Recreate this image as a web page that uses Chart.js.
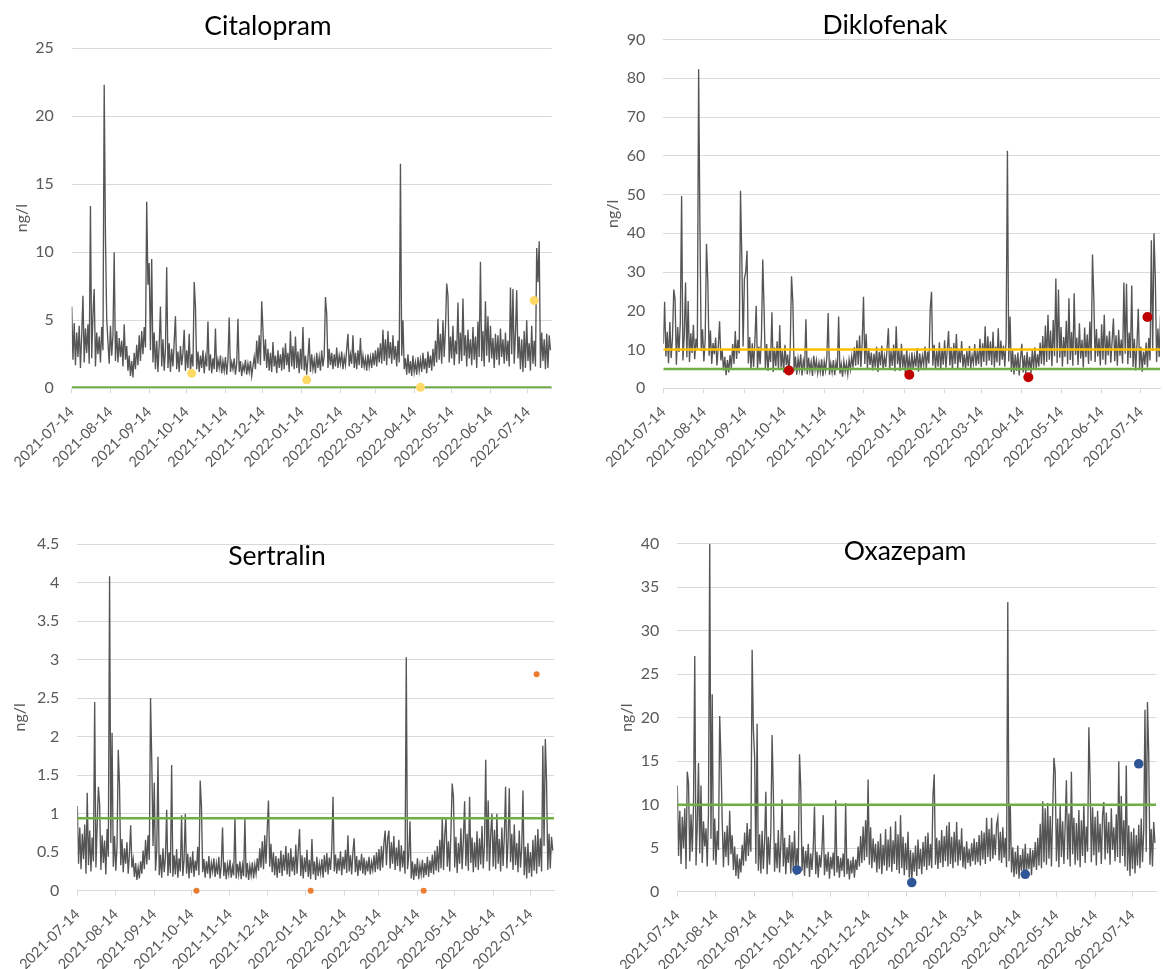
<!DOCTYPE html>
<html><head><meta charset="utf-8">
<script src="https://cdn.jsdelivr.net/npm/chart.js@4.4.1/dist/chart.umd.min.js"></script>
<style>
html,body{margin:0;padding:0;background:#fff;}
#wrap{position:relative;width:1165px;height:969px;overflow:hidden;background:#fff;}
canvas{position:absolute;}
</style></head><body>
<div id="wrap">
<canvas id="c1" width="580" height="480" style="left:0;top:0"></canvas>
<canvas id="c2" width="585" height="480" style="left:580px;top:0"></canvas>
<canvas id="c3" width="580" height="489" style="left:0;top:480px"></canvas>
<canvas id="c4" width="585" height="489" style="left:580px;top:480px"></canvas>
</div>
<script>
// ---- tick labels (monthly) ----
const tickLabels = ['2021-07-14','2021-08-14','2021-09-14','2021-10-14','2021-11-14','2021-12-14','2022-01-14','2022-02-14','2022-03-14','2022-04-14','2022-05-14','2022-06-14','2022-07-14'];
// days (since 2021-07-14) of the quarterly samples
const dotDays = [96, 188, 279, 370];

// ---- daily values, day 0 = 2021-07-14 ----
const citalopramValues = [
6.0,2.1,4.8,1.7,4.1,2.3,4.6,1.5,3.9,6.8,
1.9,4.4,2.6,4.7,1.8,13.4,2.2,5.4,7.3,1.6,
4.1,2.5,3.8,1.9,4.5,2.8,22.3,11.2,5.1,3.4,
1.8,4.6,2.4,3.9,10.0,2.0,4.2,1.9,3.7,2.3,
3.5,1.6,4.7,2.1,3.1,1.3,2.4,0.9,2.0,0.8,
2.6,1.4,3.2,1.7,3.9,2.0,4.2,2.5,4.5,3.0,
13.7,7.6,9.2,2.8,9.5,1.9,4.1,1.4,3.5,1.2,
3.2,6.0,1.6,3.6,1.3,2.9,8.9,1.5,3.3,1.2,
2.9,1.6,3.4,5.3,1.4,2.7,1.2,3.1,1.7,2.6,
4.3,1.3,2.8,1.5,4.0,1.2,2.5,1.6,7.8,6.0,
1.4,2.7,1.2,2.4,1.5,2.8,1.1,2.3,1.6,4.9,
1.3,2.5,1.1,2.2,1.4,4.4,1.2,2.1,1.5,2.4,
1.1,2.0,1.3,2.3,1.0,2.1,5.2,1.2,1.9,1.4,
2.2,1.0,1.8,5.1,1.2,2.0,0.9,1.7,1.3,2.1,
1.0,1.8,1.2,2.0,0.9,1.6,2.3,1.4,3.5,1.8,
3.9,1.7,6.4,4.3,2.0,3.6,1.5,2.9,1.3,2.6,
1.2,3.4,1.6,2.4,1.1,2.8,1.5,2.5,1.3,3.0,
1.4,3.3,1.7,2.6,1.2,4.2,1.6,3.1,1.4,3.8,
1.5,2.7,1.1,2.9,1.4,4.5,1.3,2.4,1.0,2.2,
3.7,1.2,2.5,1.4,2.1,1.1,2.6,1.5,2.3,1.3,
2.8,1.6,2.4,6.7,5.5,1.5,2.9,1.7,2.6,1.4,
2.5,1.6,3.0,1.5,2.4,1.8,2.7,1.4,2.3,1.7,
2.9,4.0,1.6,2.5,1.8,3.9,1.5,2.6,1.4,2.8,
1.7,3.7,1.5,2.4,1.6,2.2,1.3,2.5,1.6,2.3,
1.5,2.6,1.7,2.8,1.6,3.0,1.9,3.3,1.8,4.3,
2.0,3.6,1.7,4.2,2.2,3.4,1.8,3.9,2.1,3.1,
1.6,3.5,1.9,16.5,2.4,5.0,1.4,2.2,1.0,2.5,
1.1,2.0,0.9,2.4,1.2,1.9,1.0,2.3,1.3,2.1,
1.2,2.6,1.4,2.2,1.1,2.7,1.5,2.4,1.3,2.9,
1.6,3.5,1.9,5.1,2.1,4.0,1.8,5.0,2.3,4.4,
7.7,6.8,1.9,3.8,2.2,4.6,1.7,3.5,2.5,6.3,
1.8,4.1,2.0,6.6,2.4,3.9,1.6,4.3,2.2,3.6,
1.7,4.5,2.1,3.8,1.5,4.9,2.3,9.3,2.0,4.2,
1.6,6.4,2.4,5.3,1.9,4.6,2.2,3.7,1.5,4.0,
2.1,3.9,1.7,4.4,2.3,3.6,1.8,4.1,2.0,3.5,
1.6,7.4,2.5,7.3,1.8,4.0,7.2,2.2,3.8,1.4,
3.6,1.2,4.2,1.5,5.0,2.0,3.3,1.3,4.6,1.8,
3.5,1.6,10.3,7.8,10.8,1.5,4.1,2.0,3.6,1.4,
4.0,1.5,3.9,2.8];
const diklofenakValues = [
11.5,22.3,8.2,14.6,6.5,17.1,7.8,12.9,25.5,23.0,
6.1,15.8,9.4,17.0,49.6,7.2,13.5,27.3,8.0,22.5,
6.8,14.2,9.1,16.4,7.5,12.8,10.2,82.3,41.3,9.6,
15.2,6.9,12.4,37.3,27.9,8.4,14.9,6.3,11.7,8.8,
13.1,5.9,10.6,17.3,7.2,9.8,4.6,8.1,3.4,7.3,
4.1,8.6,5.2,11.4,6.3,14.8,7.6,12.5,9.0,51.0,
34.0,10.8,28.3,30.0,35.5,6.4,13.2,4.8,11.6,5.5,
12.2,21.3,4.9,10.8,6.2,13.0,33.2,20.8,5.1,11.4,
4.5,9.9,6.8,19.6,4.2,10.5,5.7,12.1,4.8,16.3,
5.3,9.6,4.1,11.2,6.0,8.7,3.8,10.3,28.9,22.3,
4.4,8.2,3.5,7.6,4.9,8.8,3.3,7.1,5.2,17.8,
3.6,7.9,4.5,6.8,3.2,8.4,4.8,7.2,3.9,6.6,
4.2,7.5,3.1,6.9,4.6,8.0,19.4,3.5,6.4,4.1,
7.3,3.4,6.7,4.7,18.5,3.8,6.2,3.0,7.0,4.3,
6.5,3.6,7.4,4.9,8.2,5.3,10.6,5.8,12.4,6.1,
13.6,5.5,11.8,23.6,6.3,14.1,5.2,10.4,6.0,9.2,
4.6,8.9,5.4,10.7,4.2,9.4,5.9,11.0,4.8,8.3,
5.5,10.2,15.5,4.7,9.6,5.8,11.3,4.4,16.0,6.2,
9.8,4.5,11.5,5.3,8.7,3.9,10.1,5.0,7.9,4.1,
9.3,4.8,8.2,5.6,10.4,4.3,9.0,5.1,8.4,6.0,
10.8,5.2,9.5,6.4,20.5,24.9,5.8,11.2,4.9,9.7,
5.6,11.9,4.7,10.3,6.1,12.4,5.3,9.8,14.8,5.9,
10.6,4.8,11.7,6.3,14.0,5.1,9.9,6.6,12.2,5.4,
8.8,4.9,9.6,5.7,10.9,5.2,8.5,6.4,11.4,5.8,
9.7,6.2,12.8,5.5,11.6,6.8,16.0,5.9,13.4,7.1,
12.1,6.0,14.6,5.4,10.8,6.7,15.5,5.8,12.3,7.4,
11.0,5.6,12.7,61.3,6.9,18.5,4.2,9.8,3.6,8.7,
4.5,9.2,3.3,7.8,11.5,4.1,8.5,3.7,9.4,4.6,
8.1,3.9,9.9,4.8,10.6,5.0,8.8,5.6,11.8,6.3,
13.5,5.9,16.2,6.8,19.0,7.4,14.9,5.7,17.6,8.3,
28.3,6.5,25.5,7.9,15.8,5.6,13.2,8.1,17.4,6.2,
23.2,7.3,14.5,5.8,24.5,8.6,13.1,6.0,16.8,7.7,
12.5,5.4,15.7,8.0,13.9,6.3,17.2,7.1,34.5,23.6,
6.8,15.3,8.2,12.9,5.9,16.5,7.4,19.0,6.1,13.6,
8.5,14.8,6.6,12.2,18.0,7.0,13.7,5.8,15.1,8.4,
12.6,6.4,27.3,8.9,27.0,6.2,14.4,7.8,26.5,5.5,
12.8,4.6,11.3,20.5,5.2,10.7,4.3,9.5,6.1,11.8,
5.4,13.0,7.2,38.2,9.6,40.0,28.8,6.8,15.4,8.1,
18.9,7.5,12.0,9.3];
const sertralinValues = [
1.10,0.35,0.82,0.28,0.74,0.41,0.86,0.22,1.27,0.33,
0.78,0.25,0.69,0.38,2.45,0.30,0.84,1.35,1.12,0.27,
0.72,0.36,0.65,0.21,0.80,0.44,4.08,0.62,2.05,0.31,
0.71,0.26,0.58,1.83,1.37,0.33,0.67,0.24,0.55,0.35,
0.63,0.22,0.48,0.85,0.30,0.41,0.18,0.36,0.14,0.30,
0.16,0.38,0.22,0.52,0.28,0.66,0.34,0.72,0.40,2.50,
1.67,0.58,1.40,0.26,0.52,1.74,0.20,0.47,0.17,0.55,
0.24,0.43,1.05,0.19,0.50,0.23,1.63,0.18,0.46,0.21,
0.54,0.17,0.42,0.25,0.98,0.19,0.40,1.00,0.22,0.48,
0.16,0.44,0.23,0.51,0.18,0.39,0.26,0.57,0.20,1.43,
1.10,0.24,0.41,0.17,0.38,0.22,0.45,0.16,0.36,0.25,
0.42,0.18,0.35,0.21,0.44,0.16,0.33,0.82,0.19,0.37,
0.15,0.34,0.22,0.40,0.17,0.31,0.20,0.95,0.16,0.35,
0.21,0.38,0.15,0.33,0.19,0.93,0.17,0.36,0.14,0.32,
0.20,0.37,0.16,0.34,0.22,0.42,0.26,0.55,0.30,0.64,
0.28,0.72,0.35,0.80,1.17,0.31,0.61,0.24,0.50,0.20,
0.45,0.17,0.42,0.23,0.52,0.19,0.47,0.26,0.58,0.21,
0.49,0.18,0.55,0.25,0.44,0.20,0.60,0.22,0.51,0.80,
0.19,0.46,0.16,0.43,0.24,0.53,0.18,0.40,0.15,0.67,
0.21,0.38,0.14,0.44,0.19,0.35,0.23,0.41,0.17,0.46,
0.24,0.49,0.21,0.43,0.27,0.55,1.22,0.25,0.47,0.22,
0.42,0.26,0.51,0.20,0.44,0.28,0.53,0.23,0.72,0.25,
0.46,0.21,0.50,0.68,0.24,0.45,0.19,0.40,0.26,0.48,
0.22,0.43,0.20,0.39,0.25,0.44,0.21,0.37,0.27,0.46,
0.24,0.50,0.28,0.54,0.26,0.58,0.30,0.62,0.78,0.33,
0.68,0.78,0.29,0.63,0.35,0.71,0.27,0.56,0.32,0.66,
0.25,0.59,0.30,0.52,0.22,3.03,0.28,0.45,0.90,0.16,
0.38,0.14,0.35,0.19,0.42,0.15,0.33,0.21,0.40,0.17,
0.36,0.20,0.44,0.18,0.39,0.23,0.47,0.21,0.52,0.26,
0.58,0.24,0.66,0.29,0.95,0.27,0.72,0.95,0.31,0.64,
0.25,0.78,1.39,1.22,0.30,0.70,0.23,0.62,0.35,0.81,
0.28,0.66,1.16,0.32,0.74,0.26,1.22,0.36,0.69,0.24,
0.63,0.30,0.77,0.27,0.68,0.34,0.84,0.29,0.60,1.70,
0.38,1.17,0.26,0.73,1.00,0.31,0.79,0.28,1.00,0.35,
0.67,0.25,0.82,0.32,0.71,1.35,0.29,0.64,1.33,0.37,
0.74,0.27,0.86,0.33,0.62,0.24,0.78,0.30,0.55,1.30,
0.20,0.57,0.16,0.62,0.23,0.50,0.18,0.66,0.26,0.72,
0.22,0.80,0.31,0.68,0.25,1.88,0.58,1.97,1.42,0.27,
0.74,0.29,0.70,0.52];
const oxazepamValues = [
12.2,4.1,9.3,3.2,8.6,5.0,9.6,2.6,13.8,12.5,
3.5,8.9,4.6,9.8,27.1,3.0,7.7,14.8,4.4,12.2,
3.3,8.1,5.2,7.3,2.9,9.0,40.0,6.1,22.7,3.6,
8.4,3.1,7.0,4.8,20.2,15.3,8.2,2.8,6.9,4.0,
7.6,3.0,9.3,4.3,6.5,2.5,5.2,1.8,4.3,1.5,
3.8,2.2,5.4,3.0,6.8,3.5,7.9,4.1,7.2,4.6,
27.8,18.6,15.5,3.2,19.3,2.4,6.6,2.1,7.0,2.6,
5.8,11.5,2.0,6.3,3.1,6.9,18.0,11.4,2.3,5.6,
2.7,7.1,2.2,5.3,10.6,2.9,6.2,2.0,5.1,3.3,
6.5,2.1,5.7,2.6,7.0,1.9,5.0,3.0,15.8,12.0,
2.4,5.2,1.8,4.7,2.7,5.5,1.7,4.4,2.5,5.0,
9.8,2.0,4.6,1.6,4.2,2.8,4.9,8.8,1.9,4.3,
2.3,4.6,1.5,4.0,2.6,4.5,1.8,10.5,2.2,4.1,
1.6,3.9,2.4,4.4,1.7,10.2,2.0,3.8,1.4,3.6,
2.1,4.0,1.6,3.7,2.5,5.2,2.9,6.4,3.3,7.5,
3.6,8.2,4.0,12.9,3.1,7.4,2.7,6.1,3.4,5.5,
2.2,5.8,2.6,6.7,2.0,5.4,3.0,7.2,2.4,6.0,
2.8,7.5,2.3,5.9,3.2,8.1,2.5,6.6,2.1,8.8,
2.7,6.3,1.9,5.6,2.5,6.9,1.6,4.8,1.1,4.5,
2.3,5.3,1.8,6.0,2.6,4.9,2.0,5.7,2.9,6.4,
2.5,6.8,3.0,5.5,2.7,11.0,13.5,3.1,6.2,2.6,
5.9,3.3,7.1,2.8,6.4,3.5,7.6,2.9,8.0,3.2,
6.3,2.7,6.9,3.4,8.0,3.0,6.0,3.6,7.3,2.8,
5.2,2.6,5.8,3.3,4.9,2.9,5.6,3.5,6.1,3.1,
5.7,3.4,6.5,3.0,7.0,3.7,6.8,3.2,8.5,4.0,
7.2,3.5,8.5,3.8,6.6,4.2,7.7,8.5,3.6,6.9,
3.3,7.4,3.9,6.2,2.8,33.3,3.5,10.0,2.2,5.1,
1.7,4.6,2.0,5.3,1.5,4.2,2.4,4.9,1.8,5.5,
2.1,4.4,2.6,5.0,1.9,4.8,2.8,5.7,2.5,6.2,
3.0,7.8,2.7,10.4,3.4,9.6,3.1,10.2,3.8,8.7,
2.9,9.3,15.4,13.8,3.5,8.4,2.8,9.9,4.0,8.1,
3.2,7.6,12.8,3.7,9.0,2.9,13.8,4.3,8.5,3.1,
7.9,3.6,9.4,2.8,8.2,4.1,10.1,3.3,7.5,4.6,
18.9,12.9,3.4,9.7,4.2,8.6,3.0,9.3,4.5,7.8,
3.2,8.8,10.3,3.7,9.1,4.4,8.0,3.1,9.6,4.8,
7.4,3.5,8.9,4.0,15.0,3.3,11.0,4.1,8.2,2.9,
14.5,2.4,7.6,1.8,6.9,2.6,7.3,2.1,6.5,3.0,
7.7,2.7,8.4,3.4,7.0,20.9,4.6,21.8,15.8,3.1,
7.2,2.9,8.0,5.6];

// ---- quarterly sample values (dots) ----
const citalopramDots = [1.1, 0.62, 0.07, 6.45];
const diklofenakDots = [4.6, 3.5, 2.85, 18.4];
const sertralinDots = [0, 0, 0, 2.81];
const oxazepamDots = [2.5, 1.05, 2.0, 14.7];

// ---- limit lines ----
const citalopramLimits = [0.05];
const diklofenakLimits = [10, 5];
const sertralinLimits = [0.94];
const oxazepamLimits = [10];

// ---- y-axis ranges [min, max, step] ----
const citalopramAxis = [0, 25, 5];
const diklofenakAxis = [0, 90, 10];
const sertralinAxis = [0, 4.5, 0.5];
const oxazepamAxis = [0, 40, 5];

const startMs = Date.parse(tickLabels[0]);
const tickDays = tickLabels.map(s => Math.round((Date.parse(s) - startMs) / 86400000));

Chart.defaults.font.family = 'Lato, "Open Sans", sans-serif';

const namePlugin = {
  id: 'chartName',
  afterDraw(chart, args, opts) {
    const ctx = chart.ctx;
    ctx.save();
    ctx.font = opts.font;
    ctx.fillStyle = opts.color;
    ctx.textAlign = 'center';
    ctx.textBaseline = 'alphabetic';
    ctx.fillText(opts.text, opts.x, opts.y);
    ctx.restore();
  }
};

function makeChart(id, name, values, dotValues, dotColor, dotRadius, limits, limitColors, axis, g) {
  const datasets = [];
  datasets.push({
    label: 'prov', data: dotDays.map((d, i) => ({x: d, y: dotValues[i]})),
    showLine: false, pointRadius: dotRadius, pointHoverRadius: dotRadius,
    pointBackgroundColor: dotColor, pointBorderColor: dotColor, pointBorderWidth: 0,
    clip: false, order: 0
  });
  limits.forEach((lv, i) => datasets.push({
    label: 'lim' + i, data: [{x: 0, y: lv}, {x: g.xMax, y: lv}],
    borderColor: limitColors[i], borderWidth: 2.5, pointRadius: 0, order: 1
  }));
  datasets.push({
    label: name, data: values.map((v, i) => ({x: i, y: v})),
    borderColor: '#555555', borderWidth: 1.35, pointRadius: 0, tension: 0, order: 2
  });
  new Chart(document.getElementById(id), {
    type: 'line',
    data: {datasets},
    options: {
      responsive: false, animation: false, devicePixelRatio: 1,
      events: [],
      layout: {padding: {left: 0, top: g.top, right: g.w - g.right, bottom: 0}},
      plugins: {
        legend: {display: false}, tooltip: {enabled: false},
        chartName: {text: name, x: g.titleX, y: g.titleY, font: '26.5px Lato', color: '#000000'}
      },
      scales: {
        x: {
          type: 'linear', min: 0, max: g.xMax,
          afterBuildTicks: s => { s.ticks = tickDays.map(v => ({value: v})); },
          afterFit: s => { s.height = g.h - g.bottom; },
          ticks: {autoSkip: false, minRotation: 45, maxRotation: 45, color: '#595959',
                  font: {size: 14.5}, padding: 10, callback: (v, i) => tickLabels[i]},
          grid: {drawOnChartArea: false, drawTicks: true, tickLength: 5, color: '#D9D9D9'},
          border: {display: true, color: '#D9D9D9', width: 1}
        },
        y: {
          min: axis[0], max: axis[1],
          afterFit: s => { s.width = g.left; },
          ticks: {stepSize: axis[2], color: '#595959', font: {size: 16}, padding: 18,
                  callback: v => String(v)},
          grid: {color: '#D9D9D9', drawTicks: false, lineWidth: 1},
          border: {display: false},
          title: {display: true, text: 'ng/l', color: '#595959', font: {size: 16},
                  padding: {top: g.yTitlePad, bottom: 0}}
        }
      }
    },
    plugins: [namePlugin]
  });
}

const GREEN = '#70AD47', GOLD = '#FFC000';
makeChart('c1', 'Citalopram', citalopramValues, citalopramDots, '#FFD966', 4.5, citalopramLimits, [GREEN], citalopramAxis,
  {w: 580, h: 480, left: 71.7, right: 551.7, top: 48, bottom: 388.3, xMax: 384, titleX: 268, titleY: 35, yTitlePad: 12});
makeChart('c2', 'Diklofenak', diklofenakValues, diklofenakDots, '#C00000', 5, diklofenakLimits, [GOLD, GREEN], diklofenakAxis,
  {w: 585, h: 480, left: 83.3, right: 585, top: 39.5, bottom: 388.3, xMax: 379.6, titleX: 305, titleY: 34, yTitlePad: 23});
makeChart('c3', 'Sertralin', sertralinValues, sertralinDots, '#ED7D31', 3, sertralinLimits, [GREEN], sertralinAxis,
  {w: 580, h: 489, left: 77.3, right: 554, top: 64, bottom: 410.7, xMax: 384, titleX: 277, titleY: 85, yTitlePad: 10.5});
makeChart('c4', 'Oxazepam', oxazepamValues, oxazepamDots, '#2F5597', 4.8, oxazepamLimits, [GREEN], oxazepamAxis,
  {w: 585, h: 489, left: 97.3, right: 576.2, top: 63.7, bottom: 411.7, xMax: 384, titleX: 325, titleY: 80, yTitlePad: 37});
</script>
</body></html>
